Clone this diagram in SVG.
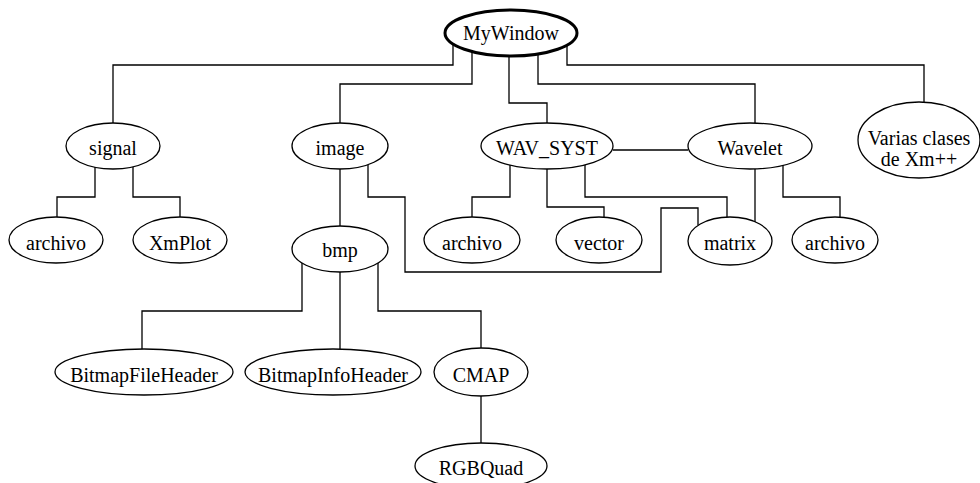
<svg xmlns="http://www.w3.org/2000/svg" width="980" height="483" viewBox="0 0 980 483">
<style>
.n ellipse{fill:#fff;stroke:#000;stroke-width:1.3}
.n text{font-size:20px;text-anchor:middle;fill:#000}
#root ellipse{stroke-width:3}
#edges polyline{fill:none;stroke:#000;stroke-width:1.3}
</style>
<rect width="980" height="483" fill="#fff"/>
<g id="edges">
<polyline points="453,44 453,65 113,65 113,123"/>
<polyline points="472,52 472,84 340,84 340,123"/>
<polyline points="509,56 509,103 547,103 547,123"/>
<polyline points="538,54 538,84 755,84 755,123.5"/>
<polyline points="567,45 567,65 924,65 924,102"/>
<polyline points="613,150 688,150"/>
<polyline points="95,167 95,197 57,197 57,217"/>
<polyline points="133,167 133,197 180,197 180,217"/>
<polyline points="340,169 340,226"/>
<polyline points="368,165 368,197 405,197 405,272 661,272 661,208 698,208 698,225"/>
<polyline points="510,165 510,197 472,197 472,217"/>
<polyline points="547,169 547,207 604,207 604,217"/>
<polyline points="585,165 585,197 727,197 727,217"/>
<polyline points="755,169 755,223"/>
<polyline points="783,165 783,197 840,197 840,217"/>
<polyline points="302,263 302,311 142,311 142,349"/>
<polyline points="340,272 340,349"/>
<polyline points="378,263 378,311 481,311 481,348"/>
<polyline points="481,396 481,443"/>
</g>
<g font-family="'Liberation Serif', 'Times New Roman', 'DejaVu Serif', serif">
<g id="root" class="n"><ellipse cx="511" cy="33" rx="66" ry="23"/><text x="511" y="40">MyWindow</text></g>
<g id="signal" class="n"><ellipse cx="113" cy="146" rx="47" ry="23"/><text x="113" y="155">signal</text></g>
<g id="image" class="n"><ellipse cx="340" cy="146" rx="48" ry="23"/><text x="340" y="155">image</text></g>
<g id="wavsyst" class="n"><ellipse cx="547" cy="146" rx="66" ry="23"/><text x="547" y="155">WAV_SYST</text></g>
<g id="wavelet" class="n"><ellipse cx="750" cy="146" rx="62" ry="23"/><text x="750" y="155">Wavelet</text></g>
<g id="varias" class="n"><ellipse cx="919" cy="140" rx="61" ry="38"/><text x="919" y="145">Varias clases</text><text x="919" y="166">de Xm++</text></g>
<g id="archivo1" class="n"><ellipse cx="56" cy="240" rx="47" ry="23"/><text x="56" y="250">archivo</text></g>
<g id="xmplot" class="n"><ellipse cx="180" cy="240" rx="47" ry="23"/><text x="180" y="250">XmPlot</text></g>
<g id="archivo2" class="n"><ellipse cx="472" cy="240" rx="48" ry="23"/><text x="472" y="250">archivo</text></g>
<g id="vector" class="n"><ellipse cx="599" cy="240" rx="43" ry="23"/><text x="599" y="250">vector</text></g>
<g id="matrix" class="n"><ellipse cx="730" cy="241" rx="42" ry="24"/><text x="730" y="250">matrix</text></g>
<g id="archivo3" class="n"><ellipse cx="835" cy="240" rx="43" ry="23"/><text x="835" y="250">archivo</text></g>
<g id="bmp" class="n"><ellipse cx="340" cy="249" rx="48" ry="23"/><text x="340" y="257">bmp</text></g>
<g id="bfh" class="n"><ellipse cx="144" cy="372" rx="89" ry="23"/><text x="144" y="382">BitmapFileHeader</text></g>
<g id="bih" class="n"><ellipse cx="333" cy="372" rx="88" ry="23"/><text x="333" y="382">BitmapInfoHeader</text></g>
<g id="cmap" class="n"><ellipse cx="481" cy="372" rx="47" ry="24"/><text x="481" y="382">CMAP</text></g>
<g id="rgbquad" class="n"><ellipse cx="481" cy="466" rx="66" ry="23"/><text x="481" y="475">RGBQuad</text></g>
</g>
</svg>
